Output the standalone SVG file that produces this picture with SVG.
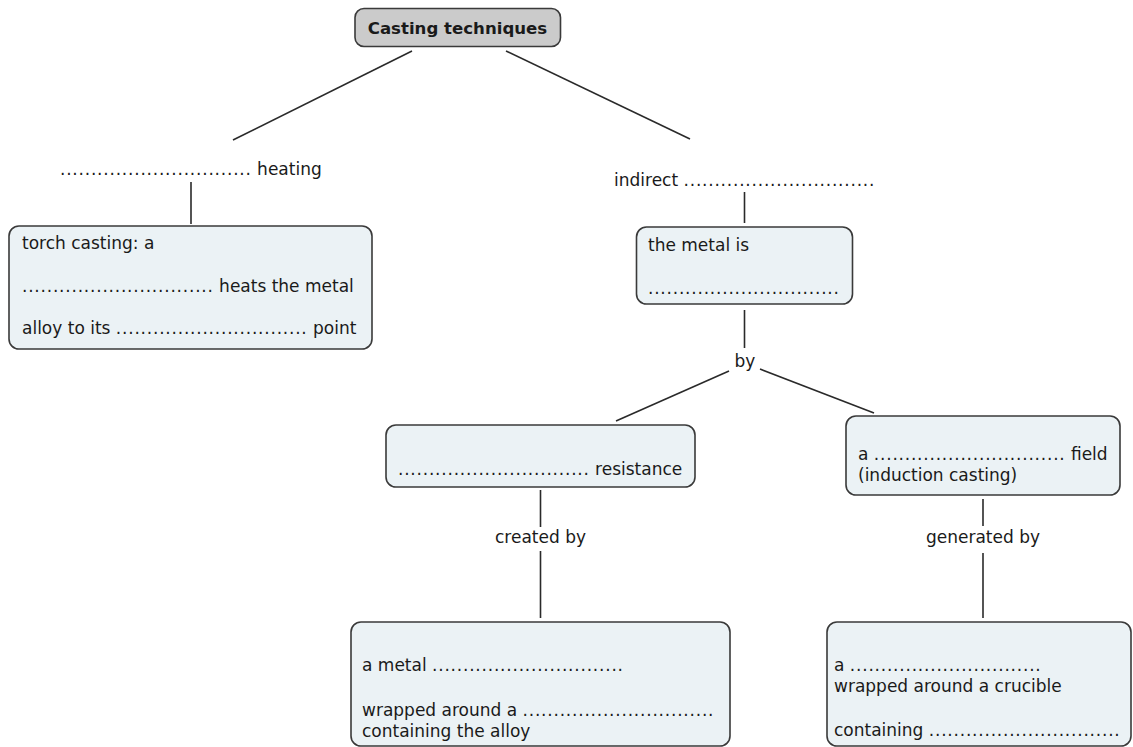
<svg xmlns="http://www.w3.org/2000/svg" width="1133" height="747" viewBox="0 0 1133 747">
<style>
text{font-family:"DejaVu Sans","Liberation Sans",sans-serif;font-size:17px;fill:#1a1a1a}
.d{letter-spacing:0.78px}
.box{fill:#ebf2f5;stroke:#3a3a3a;stroke-width:1.6}
.top{fill:#cbcbcb;stroke:#3a3a3a;stroke-width:1.6}
.c line{stroke:#2a2a2a;stroke-width:1.6}
.b{font-weight:bold;font-size:16.6px}
.m{text-anchor:middle}
</style>
<rect width="1133" height="747" fill="#ffffff"/>
<g class="c" id="connectors">
<line x1="412" y1="51" x2="233" y2="140"/>
<line x1="506" y1="51" x2="690" y2="139"/>
<line x1="191" y1="182" x2="191" y2="224"/>
<line x1="744.5" y1="192" x2="744.5" y2="223"/>
<line x1="744.5" y1="310" x2="744.5" y2="348"/>
<line x1="729" y1="371" x2="616" y2="421"/>
<line x1="760" y1="369" x2="874" y2="413"/>
<line x1="540.5" y1="490" x2="540.5" y2="527"/>
<line x1="540.5" y1="551" x2="540.5" y2="618"/>
<line x1="983" y1="499" x2="983" y2="526"/>
<line x1="983" y1="553" x2="983" y2="618"/>
</g>
<g id="n-casting">
<rect class="top" x="355" y="8.5" width="205.5" height="38" rx="9"/>
<text class="b m" x="457.5" y="33.5">Casting techniques</text>
</g>
<g id="l-heating">
<text x="60" y="175"><tspan class="d">...............................</tspan> heating</text>
</g>
<g id="n-torch">
<rect class="box" x="9" y="226" width="363" height="123" rx="10"/>
<text x="22" y="249">torch casting: a</text>
<text x="22" y="292"><tspan class="d">...............................</tspan> heats the metal</text>
<text x="22" y="334">alloy to its <tspan class="d">...............................</tspan> point</text>
</g>
<g id="l-indirect">
<text x="614" y="186">indirect <tspan class="d">...............................</tspan></text>
</g>
<g id="n-metal">
<rect class="box" x="636.5" y="227" width="216" height="77" rx="10"/>
<text x="648" y="251">the metal is</text>
<text x="648" y="294"><tspan class="d">...............................</tspan></text>
</g>
<g id="l-by">
<text class="m" x="745" y="367">by</text>
</g>
<g id="n-resistance">
<rect class="box" x="386" y="425" width="309" height="62" rx="10"/>
<text x="398" y="475"><tspan class="d">...............................</tspan> resistance</text>
</g>
<g id="n-field">
<rect class="box" x="846" y="416" width="274" height="79" rx="10"/>
<text x="858" y="460">a <tspan class="d">...............................</tspan> field</text>
<text x="858" y="481">(induction casting)</text>
</g>
<g id="l-created">
<text class="m" x="540.5" y="543">created by</text>
</g>
<g id="l-generated">
<text class="m" x="983" y="543">generated by</text>
</g>
<g id="n-coil">
<rect class="box" x="351" y="622" width="379" height="124" rx="10"/>
<text x="362" y="671">a metal <tspan class="d">...............................</tspan></text>
<text x="362" y="716">wrapped around a <tspan class="d">...............................</tspan></text>
<text x="362" y="737">containing the alloy</text>
</g>
<g id="n-crucible">
<rect class="box" x="827" y="622" width="304" height="124" rx="10"/>
<text x="834" y="671">a <tspan class="d">...............................</tspan></text>
<text x="834" y="692">wrapped around a crucible</text>
<text x="834" y="736">containing <tspan class="d">...............................</tspan></text>
</g>
</svg>
